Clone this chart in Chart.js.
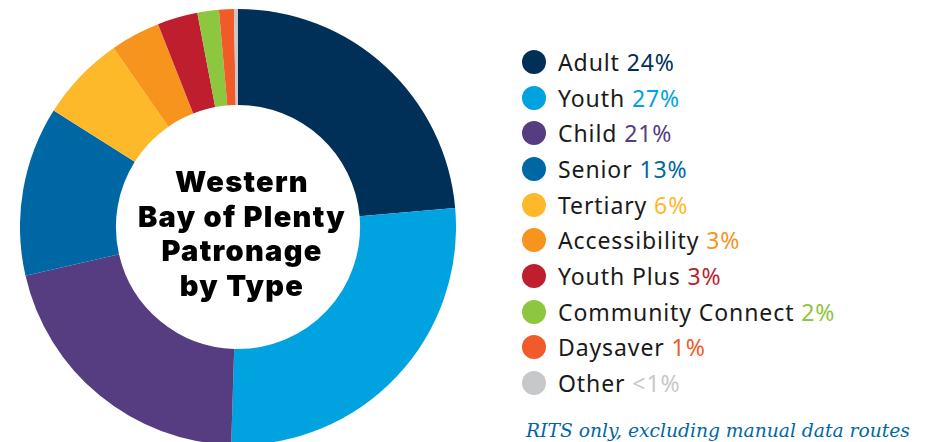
<!DOCTYPE html>
<html>
<head>
<meta charset="utf-8">
<script src="https://cdn.jsdelivr.net/npm/chart.js@4.4.1/dist/chart.umd.min.js"></script>
<style>
  html, body { margin:0; padding:0; width:935px; height:442px; overflow:hidden; background:#fff; }
  #wrap { position:absolute; left:20px; top:9px; width:436px; height:436px; }
  #center { position:absolute; left:122px; top:165px; width:240px; text-align:center;
    font-family:"Inter","DejaVu Sans",sans-serif; font-weight:900; font-size:29px; line-height:34.5px;
    color:#000; letter-spacing:1.3px; }
  #legend { position:absolute; left:522px; top:44px; font-family:"Noto Sans",sans-serif; font-size:23px; color:#1a1a1a; letter-spacing:0.9px; }
  .row { height:35.7px; display:flex; align-items:center; white-space:nowrap; }
  .dot { width:24px; height:24px; border-radius:50%; margin-right:12px; flex:none; }
  #note { position:absolute; left:526px; top:420px; font-family:"DejaVu Serif",serif; font-style:italic;
    font-size:18.7px; color:#0067A5; white-space:nowrap; }
</style>
</head>
<body>
<div id="wrap"><canvas id="c"></canvas></div>
<div id="center">Western<br>Bay of Plenty<br>Patronage<br>by Type</div>
<div id="legend"></div>
<div id="note">RITS only, excluding manual data routes</div>
<script>
const categories = ["Adult","Youth","Child","Senior","Tertiary","Accessibility","Youth Plus","Community Connect","Daysaver","Other"];
const values = [23.7, 27, 21, 12.6, 6.4, 3.7, 3, 1.6, 1.1, 0.3];
const pctLabels = ["24%","27%","21%","13%","6%","3%","3%","2%","1%","<1%"];
const colors = ["#003057","#00A3E0","#563D82","#0067A5","#FDB92A","#F7941D","#BE1E2D","#8DC63F","#F15A29","#C7C8CA"];

const legend = document.getElementById("legend");
categories.forEach((c,i)=>{
  const r = document.createElement("div"); r.className="row";
  const d = document.createElement("span"); d.className="dot"; d.style.background=colors[i];
  const t = document.createElement("span"); t.textContent = c + " ";
  const p = document.createElement("span"); p.textContent = pctLabels[i]; p.style.color = colors[i];
  t.appendChild(p); r.appendChild(d); r.appendChild(t); legend.appendChild(r);
});

new Chart(document.getElementById("c"), {
  type: "doughnut",
  data: { labels: categories, datasets: [{ data: values, backgroundColor: colors, borderWidth: 0 }] },
  options: {
    responsive: true, maintainAspectRatio: false, animation: false,
    cutout: "56%",
    layout: { padding: 0 },
    plugins: { legend: { display:false }, tooltip: { enabled:false } }
  }
});
</script>
</body>
</html>
